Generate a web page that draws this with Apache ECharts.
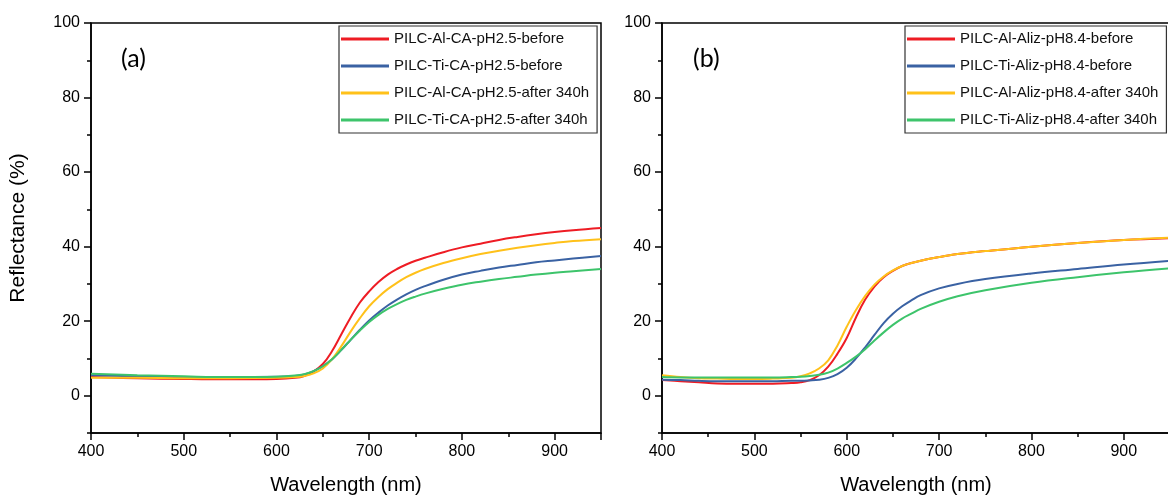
<!DOCTYPE html>
<html><head><meta charset="utf-8">
<script src="https://cdn.jsdelivr.net/npm/echarts@6/dist/echarts.min.js"></script>
<style>html,body{margin:0;padding:0;background:#fff}#c{width:1168px;height:497px}</style>
</head><body><div id="c"></div>
<script>
// Panel (a)
const wlA = [400,450,500,550,600,620,630,640,650,660,670,680,690,700,710,720,730,740,750,760,780,800,820,840,860,880,900,920,950];
const redA    = [5.0,4.7,4.5,4.4,4.5,4.8,5.3,6.5,8.5,12,16.5,21,25,28,30.5,32.5,34,35.2,36.2,37,38.5,39.8,40.8,41.8,42.6,43.3,43.9,44.4,45.0];
const blueA   = [5.5,5.2,5.0,5.0,5.1,5.3,5.7,6.6,7.9,9.8,12.3,15,17.7,20.2,22.3,24.2,25.8,27.2,28.4,29.4,31.1,32.5,33.5,34.4,35.1,35.8,36.3,36.8,37.5];
const yellowA = [4.8,4.8,4.7,4.7,4.8,5.0,5.3,6.0,7.3,9.8,13.3,17.2,20.8,24,26.5,28.6,30.3,31.8,33,34,35.6,36.9,38,38.9,39.7,40.4,41,41.5,42.0];
const greenA  = [5.9,5.5,5.2,5.0,5.1,5.4,5.8,6.6,7.9,9.8,12.3,15,17.5,19.8,21.7,23.3,24.6,25.7,26.6,27.4,28.7,29.8,30.6,31.3,31.9,32.5,33.0,33.4,34.0];
const namesA = ['PILC-Al-CA-pH2.5-before','PILC-Ti-CA-pH2.5-before','PILC-Al-CA-pH2.5-after 340h','PILC-Ti-CA-pH2.5-after 340h'];

// Panel (b)
const wlB = [400,420,440,460,480,500,520,540,550,560,570,580,590,600,610,620,630,640,650,660,670,680,700,720,750,800,850,900,950];
const redB    = [4.2,3.9,3.6,3.3,3.2,3.2,3.2,3.4,3.6,4.2,5.5,7.8,11.3,15.5,21,25.8,29.3,31.8,33.5,34.8,35.6,36.2,37.2,38,38.8,40.0,41.0,41.8,42.3];
const blueB   = [4.3,4.2,4.0,3.9,3.9,3.9,3.9,4.0,4.0,4.1,4.3,4.8,5.8,7.5,10,13,16.3,19.5,22,24,25.6,27,28.8,30,31.3,32.8,34,35.2,36.2];
const yellowB = [5.5,5.0,4.7,4.6,4.5,4.5,4.6,4.8,5.2,6.0,7.3,9.5,13.5,18.5,23,26.8,29.8,32.0,33.6,34.8,35.6,36.2,37.2,38,38.8,40.0,41.0,41.8,42.4];
const greenB  = [5.0,4.9,4.9,4.9,4.9,4.9,4.9,5.0,5.1,5.3,5.6,6.2,7.3,8.8,10.5,12.5,14.8,17,19,20.7,22,23.3,25.2,26.7,28.3,30.3,31.8,33.1,34.2];
const namesB = ['PILC-Al-Aliz-pH8.4-before','PILC-Ti-Aliz-pH8.4-before','PILC-Al-Aliz-pH8.4-after 340h','PILC-Ti-Aliz-pH8.4-after 340h'];

const xTicks = { min: 400, max: 950, interval: 100 };
const yTicks = { min: -10, max: 100 };
const colors = ['#ee1c24', '#3a62a3', '#ffc11a', '#3dc46b'];

const FONT = '"Liberation Sans", Arial, sans-serif';
const black = '#000';

function zip(xs, ys) { return xs.map((x, i) => [x, ys[i]]); }

function xAxis(g) {
  return {
    gridIndex: g, type: 'value', min: xTicks.min, max: xTicks.max, interval: xTicks.interval,
    axisLine: { show: true, onZero: false, lineStyle: { color: black, width: 1.5 } },
    axisTick: { show: true, length: 7, lineStyle: { color: black, width: 1.5 } },
    minorTick: { show: true, splitNumber: 2, length: 4, lineStyle: { color: black, width: 1.5 } },
    splitLine: { show: false },
    axisLabel: { color: black, fontSize: 16, margin: 11, fontFamily: FONT, showMaxLabel: false,
                 formatter: v => (v % 100 === 0 ? String(v) : '') },
    name: 'Wavelength (nm)', nameLocation: 'middle', nameGap: 42,
    nameTextStyle: { fontSize: 20, color: black, fontFamily: FONT }
  };
}
function yMain(g, withName) {
  const a = {
    gridIndex: g, type: 'value', min: yTicks.min, max: yTicks.max, splitNumber: 5,
    axisLine: { show: true, onZero: false, lineStyle: { color: black, width: 1.5 } },
    axisTick: { show: true, length: 7, lineStyle: { color: black, width: 1.5 } },
    splitLine: { show: false },
    axisLabel: { color: black, fontSize: 16, margin: 11, fontFamily: FONT, showMinLabel: false }
  };
  if (withName) {
    a.name = 'Reflectance (%)'; a.nameLocation = 'middle'; a.nameGap = 62;
    a.nameTextStyle = { fontSize: 21, color: black, fontFamily: FONT };
  }
  return a;
}
function yMinor(g) {
  return {
    gridIndex: g, type: 'value', min: yTicks.min, max: yTicks.max, interval: 10, position: 'left',
    axisLine: { show: false },
    axisTick: { show: true, length: 4, lineStyle: { color: black, width: 1.5 } },
    splitLine: { show: false }, axisLabel: { show: false }
  };
}
function legend(left, names) {
  return {
    orient: 'vertical', left: left, top: 26, data: names,
    icon: 'rect', itemWidth: 48, itemHeight: 3, itemGap: 11,
    padding: [5, 8, 5, 2], borderColor: '#333', borderWidth: 1.2, backgroundColor: '#fff',
    textStyle: { fontSize: 15, color: '#111', fontFamily: FONT, lineHeight: 16 }
  };
}
function series(names, xs, ys, xi, yi) {
  return names.map((n, i) => ({
    name: n, type: 'line', xAxisIndex: xi, yAxisIndex: yi, data: zip(xs, ys[i]),
    showSymbol: false, symbol: 'none', smooth: 0.4, color: colors[i],
    lineStyle: { width: 2, color: colors[i] }, itemStyle: { color: colors[i] }
  }));
}

const chart = echarts.init(document.getElementById('c'), null, { renderer: 'canvas' });
chart.setOption({
  animation: false,
  backgroundColor: '#fff',
  grid: [
    { left: 91, right: 567, top: 23, bottom: 64, show: true, borderColor: black, borderWidth: 1.5, outerBoundsMode: 'none', containLabel: false },
    { left: 662, right: -2, top: 23, bottom: 64, show: true, borderColor: black, borderWidth: 1.5, outerBoundsMode: 'none', containLabel: false }
  ],
  xAxis: [xAxis(0), xAxis(1)],
  yAxis: [yMain(0, true), yMinor(0), yMain(1, false), yMinor(1)],
  legend: [legend(339, namesA), legend(905, namesB)],
  graphic: [
    { type: 'text', left: 121, top: 46, style: { text: '(a)', font: '25px Lato', fill: '#000' } },
    { type: 'text', left: 693, top: 46, style: { text: '(b)', font: '25px Lato', fill: '#000' } }
  ],
  series: [
    ...series(namesA, wlA, [redA, blueA, yellowA, greenA], 0, 0),
    ...series(namesB, wlB, [redB, blueB, yellowB, greenB], 1, 2)
  ]
});
</script></body></html>
